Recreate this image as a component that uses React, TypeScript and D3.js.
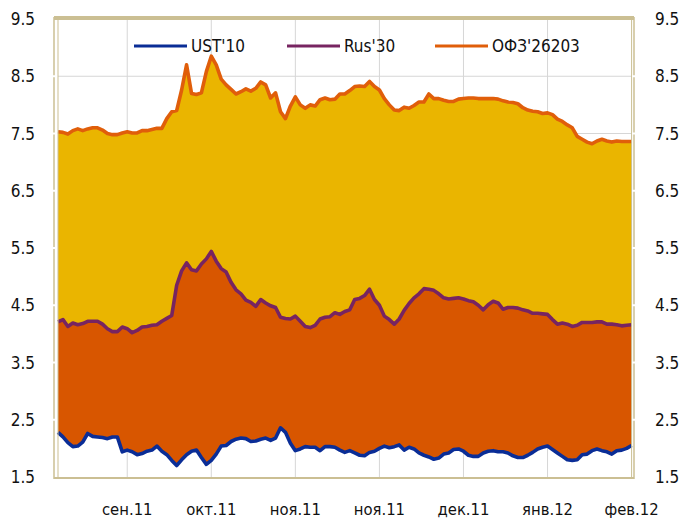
import React from "react";
import * as d3 from "d3";

const ust10 = [
  2.28, 2.20, 2.10, 2.03, 2.04, 2.11, 2.26, 2.21, 2.20, 2.19,
  2.17, 2.20, 2.20, 1.94, 1.97, 1.94, 1.89, 1.91, 1.95, 1.97,
  2.04, 1.95, 1.89, 1.79, 1.70, 1.80, 1.89, 1.95, 1.97, 1.84,
  1.72, 1.79, 1.90, 2.04, 2.05, 2.12, 2.16, 2.18, 2.17, 2.12,
  2.13, 2.16, 2.18, 2.14, 2.18, 2.36, 2.28, 2.09, 1.96, 1.99,
  2.03, 2.02, 2.02, 1.96, 2.03, 2.03, 2.02, 1.97, 1.93, 1.96,
  1.92, 1.88, 1.87, 1.93, 1.95, 2.00, 2.04, 2.01, 2.03, 2.06,
  1.97, 2.02, 1.99, 1.92, 1.88, 1.85, 1.81, 1.83, 1.90, 1.92,
  1.98, 1.99, 1.95, 1.88, 1.86, 1.86, 1.92, 1.95, 1.96, 1.94,
  1.94, 1.92, 1.87, 1.84, 1.84, 1.88, 1.93, 1.99, 2.02, 2.04,
  1.98, 1.92, 1.86, 1.80, 1.79, 1.80, 1.89, 1.90, 1.96, 1.99,
  1.96, 1.94, 1.90, 1.96, 1.97, 2.00, 2.05,
];

const rus30 = [
  4.21, 4.25, 4.13, 4.19, 4.16, 4.18, 4.22, 4.22, 4.22, 4.17,
  4.09, 4.04, 4.04, 4.12, 4.09, 4.02, 4.06, 4.12, 4.13, 4.15,
  4.16, 4.22, 4.27, 4.32, 4.85, 5.10, 5.24, 5.12, 5.10, 5.22,
  5.31, 5.44, 5.27, 5.14, 5.08, 4.90, 4.77, 4.70, 4.59, 4.55,
  4.48, 4.60, 4.54, 4.49, 4.46, 4.29, 4.27, 4.26, 4.31, 4.22,
  4.13, 4.11, 4.15, 4.26, 4.29, 4.30, 4.37, 4.34, 4.39, 4.42,
  4.60, 4.62, 4.67, 4.78, 4.60, 4.50, 4.31, 4.25, 4.17, 4.26,
  4.41, 4.53, 4.63, 4.70, 4.79, 4.78, 4.76, 4.70, 4.63, 4.61,
  4.62, 4.63, 4.61, 4.58, 4.56, 4.50, 4.42, 4.51, 4.57, 4.54,
  4.43, 4.46, 4.46, 4.45, 4.42, 4.40, 4.36, 4.36, 4.35, 4.34,
  4.25, 4.17, 4.19, 4.17, 4.13, 4.15, 4.20, 4.20, 4.20, 4.21,
  4.21, 4.17, 4.17, 4.16, 4.14, 4.15, 4.16,
];

const ofz26203 = [
  7.53, 7.52, 7.49, 7.55, 7.58, 7.55, 7.58, 7.60, 7.60, 7.56,
  7.50, 7.48, 7.48, 7.51, 7.53, 7.51, 7.51, 7.55, 7.55, 7.57,
  7.59, 7.59, 7.76, 7.88, 7.90, 8.26, 8.70, 8.20, 8.18, 8.21,
  8.58, 8.85, 8.70, 8.45, 8.35, 8.27, 8.19, 8.23, 8.28, 8.24,
  8.29, 8.40, 8.35, 8.12, 8.21, 7.88, 7.76, 7.98, 8.14, 8.00,
  7.94, 8.00, 7.98, 8.09, 8.12, 8.09, 8.10, 8.19, 8.19, 8.25,
  8.32, 8.33, 8.32, 8.41, 8.32, 8.26, 8.11, 8.00, 7.91, 7.90,
  7.96, 7.94, 7.99, 8.05, 8.05, 8.19, 8.11, 8.11, 8.08, 8.06,
  8.06, 8.10, 8.11, 8.12, 8.12, 8.11, 8.11, 8.11, 8.11, 8.10,
  8.07, 8.05, 8.04, 8.02, 7.95, 7.91, 7.89, 7.88, 7.85, 7.86,
  7.83, 7.75, 7.71, 7.65, 7.60, 7.45, 7.40, 7.35, 7.32, 7.37,
  7.40, 7.37, 7.35, 7.37, 7.36, 7.36, 7.36,
];

const seriesNames = ["UST'10", "Rus'30", "ОФЗ'26203"];
const xTickIndex = [14, 31, 48, 65, 82, 99, 116];
const xTickLabels = ["сен.11", "окт.11", "ноя.11", "ноя.11", "дек.11", "янв.12", "фев.12"];
const yTicks = [1.5, 2.5, 3.5, 4.5, 5.5, 6.5, 7.5, 8.5, 9.5];

const FONT = "'Liberation Sans Narrow', 'Arial Narrow', 'DejaVu Sans Condensed', sans-serif";
const TAN = "#CBBF93";
const GRID = "#D6D6D6";
const YELLOW = "#EAB500";
const ORANGE_FILL = "#D85600";
const OFZ_LINE = "#E05E0A";
const RUS_LINE = "#772461";
const UST_LINE = "#0A2D96";

export default function App() {
  const W = 681;
  const H = 520;
  const x0 = 58;
  const x1 = 631.6;
  const yTop = 19;
  const yBot = 477;
  const n = ust10.length;
  const idx = d3.range(n);

  const x = d3.scaleLinear().domain([0, n - 1]).range([x0, x1]);
  const y = d3.scaleLinear().domain([1.5, 9.5]).range([yBot, yTop]);

  const areaYellow = d3
    .area<number>()
    .x((i) => x(i))
    .y0((i) => y(rus30[i]))
    .y1((i) => y(ofz26203[i]));
  const areaOrange = d3
    .area<number>()
    .x((i) => x(i))
    .y0((i) => y(ust10[i]))
    .y1((i) => y(rus30[i]));
  const lineOf = (arr: number[]) =>
    d3
      .line<number>()
      .x((i) => x(i))
      .y((i) => y(arr[i]))(idx) as string;

  const legendItems = [
    { name: seriesNames[0], color: UST_LINE, lx: 134 },
    { name: seriesNames[1], color: RUS_LINE, lx: 287 },
    { name: seriesNames[2], color: OFZ_LINE, lx: 435 },
  ];

  return (
    <div style={{ position: "fixed", left: 0, top: 0, width: W, height: H, background: "#fff" }}>
      <svg width={W} height={H} style={{ display: "block", fontFamily: FONT }}>
        <rect x={0} y={0} width={W} height={H} fill="#fff" />
        {/* grid */}
        {yTicks.slice(1, -1).map((t) => (
          <line key={"gy" + t} x1={x0} x2={x1} y1={y(t)} y2={y(t)} stroke={GRID} strokeWidth={1} />
        ))}
        {xTickIndex.slice(0, -1).map((t) => (
          <line key={"gx" + t} x1={x(t)} x2={x(t)} y1={yTop} y2={yBot} stroke={GRID} strokeWidth={1} />
        ))}
        {/* areas */}
        <path d={areaYellow(idx) as string} fill={YELLOW} />
        <path d={areaOrange(idx) as string} fill={ORANGE_FILL} />
        {/* lines */}
        <path d={lineOf(ofz26203)} fill="none" stroke={OFZ_LINE} strokeWidth={3.6} strokeLinejoin="round" />
        <path d={lineOf(rus30)} fill="none" stroke={RUS_LINE} strokeWidth={3.6} strokeLinejoin="round" />
        <path d={lineOf(ust10)} fill="none" stroke={UST_LINE} strokeWidth={3.6} strokeLinejoin="round" />
        {/* frame */}
        <line x1={x0} x2={x0} y1={yTop} y2={yBot} stroke={TAN} strokeWidth={1} />
        <line x1={x1} x2={x1} y1={yTop} y2={yBot} stroke={TAN} strokeWidth={1} />
        <line x1={54} x2={634} y1={yTop - 1} y2={yTop - 1} stroke={TAN} strokeWidth={4} />
        <line x1={54} x2={634} y1={yBot + 1} y2={yBot + 1} stroke={TAN} strokeWidth={2} />
        <line x1={54} x2={54} y1={yTop - 2} y2={yBot + 2} stroke={TAN} strokeWidth={1.5} />
        <line x1={634} x2={634} y1={yTop - 2} y2={yBot + 2} stroke={TAN} strokeWidth={1.5} />
        {yTicks.slice(1, -1).map((t) => (
          <g key={"tk" + t}>
            <line x1={51} x2={56} y1={y(t)} y2={y(t)} stroke="#fff" strokeWidth={2} />
            <line x1={632} x2={637} y1={y(t)} y2={y(t)} stroke="#fff" strokeWidth={2} />
          </g>
        ))}
        {/* y labels */}
        {yTicks.map((t) => (
          <g key={"yl" + t} fontSize={17} fill="#111">
            <text x={35} y={y(t)} dy="0.36em" textAnchor="end">
              {t.toFixed(1)}
            </text>
            <text x={655} y={y(t)} dy="0.36em" textAnchor="start">
              {t.toFixed(1)}
            </text>
          </g>
        ))}
        {/* x labels */}
        {xTickIndex.map((t, k) => (
          <text key={"xl" + k} x={x(t)} y={515} textAnchor="middle" fontSize={16.5} fill="#111">
            {xTickLabels[k]}
          </text>
        ))}
        {/* legend */}
        {legendItems.map((it) => (
          <g key={it.name}>
            <line x1={it.lx} x2={it.lx + 53} y1={46} y2={46} stroke={it.color} strokeWidth={3} />
            <text x={it.lx + 57} y={52} fontSize={17} fill="#111">
              {it.name}
            </text>
          </g>
        ))}
      </svg>
    </div>
  );
}
